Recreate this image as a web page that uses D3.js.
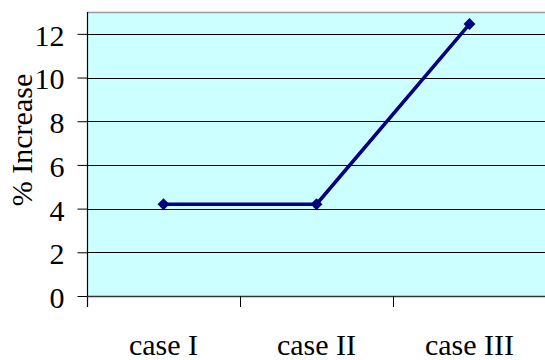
<!DOCTYPE html>
<html>
<head>
<meta charset="utf-8">
<script src="https://cdn.jsdelivr.net/npm/d3@7"></script>
<style>
  html, body { margin: 0; padding: 0; background: #ffffff; }
  svg { display: block; }
</style>
</head>
<body>
<svg id="chart" width="545" height="360"></svg>
<script>
// Percent increase for each case
const categories = ["case I", "case II", "case III"];
const increase = [4.2, 4.2, 12.45];
const yTicks = [0, 2, 4, 6, 8, 10, 12];
const yMax = 13;
const yTitle = "% Increase";

const serif = "Liberation Serif";
const svg = d3.select("#chart");
const plot = { left: 87, right: 546, top: 12, bottom: 296 };

const x = d3.scaleBand().domain(categories).range([plot.left, plot.right]).padding(0);
const y = d3.scaleLinear().domain([0, yMax]).range([plot.bottom, plot.top]);

// plot area background
svg.append("rect")
  .attr("x", plot.left).attr("y", plot.top)
  .attr("width", plot.right - plot.left).attr("height", plot.bottom - plot.top)
  .attr("fill", "#ccffff");

// top border of the plot area
svg.append("line")
  .attr("x1", plot.left).attr("x2", plot.right)
  .attr("y1", plot.top + 0.5).attr("y2", plot.top + 0.5)
  .attr("stroke", "#9a9a9a").attr("stroke-width", 1.5);

// horizontal gridlines
svg.append("g")
  .selectAll("line")
  .data(yTicks.filter(d => d > 0))
  .join("line")
  .attr("x1", plot.left).attr("x2", plot.right)
  .attr("y1", d => Math.round(y(d)) + 0.5).attr("y2", d => Math.round(y(d)) + 0.5)
  .attr("stroke", "#000").attr("stroke-width", 1);

// y axis with outward ticks
const yAxis = svg.append("g")
  .attr("transform", `translate(${plot.left + 0.5},0)`)
  .call(d3.axisLeft(y).tickValues(yTicks).tickSize(10).tickPadding(13).tickSizeOuter(0));
yAxis.attr("font-family", null).attr("font-size", null);
yAxis.select(".domain").remove();
yAxis.selectAll(".tick line").attr("stroke", "#000").attr("stroke-width", 1);
yAxis.selectAll(".tick text")
  .style("font-family", serif)
  .style("font-size", "30px")
  .attr("dy", "0.38em")
  .attr("fill", "#000");

// left axis line, extended down to the category tick length
svg.append("line")
  .attr("x1", plot.left + 0.5).attr("x2", plot.left + 0.5)
  .attr("y1", plot.top).attr("y2", plot.bottom + 11)
  .attr("stroke", "#000").attr("stroke-width", 1.2);

// x axis: tick marks at category boundaries, labels centred on categories
const boundaries = categories.slice(1).map(c => x(c));
svg.append("line")
  .attr("x1", plot.left).attr("x2", plot.right)
  .attr("y1", plot.bottom + 0.5).attr("y2", plot.bottom + 0.5)
  .attr("stroke", "#333").attr("stroke-width", 1.5);
svg.append("g")
  .selectAll("line")
  .data(boundaries)
  .join("line")
  .attr("x1", d => Math.round(d) + 0.5).attr("x2", d => Math.round(d) + 0.5)
  .attr("y1", plot.bottom).attr("y2", plot.bottom + 11)
  .attr("stroke", "#000").attr("stroke-width", 1);

svg.append("g")
  .selectAll("text")
  .data(categories)
  .join("text")
  .attr("x", d => x(d) + x.bandwidth() / 2)
  .attr("y", 355)
  .attr("text-anchor", "middle")
  .style("font-family", serif)
  .style("font-size", "30px")
  .attr("fill", "#000")
  .text(d => d);

// y axis title
svg.append("text")
  .attr("transform", "translate(32,140) rotate(-90)")
  .attr("text-anchor", "middle")
  .style("font-family", serif)
  .style("font-size", "30px")
  .attr("fill", "#000")
  .text(yTitle);

// series line and diamond markers
const pts = categories.map((c, i) => ({ c, v: increase[i] }));
const line = d3.line()
  .x(d => x(d.c) + x.bandwidth() / 2)
  .y(d => y(d.v));

svg.append("path")
  .datum(pts)
  .attr("d", line)
  .attr("fill", "none")
  .attr("stroke", "#000080")
  .attr("stroke-width", 3.5)
  .attr("stroke-linejoin", "round");

svg.append("g")
  .selectAll("path")
  .data(pts)
  .join("path")
  .attr("transform", d => `translate(${x(d.c) + x.bandwidth() / 2},${y(d.v)})`)
  .attr("d", d3.symbol(d3.symbolDiamond2, 90)())
  .attr("fill", "#000080");
</script>
</body>
</html>
